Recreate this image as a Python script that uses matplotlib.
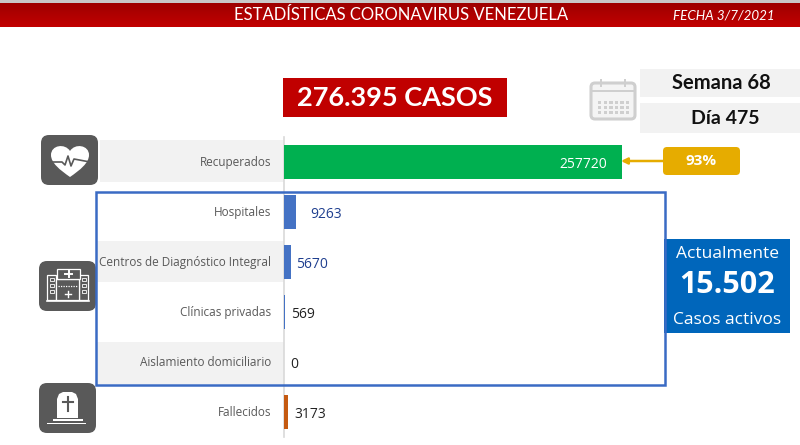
import numpy as np
import matplotlib
matplotlib.use("Agg")
import matplotlib.pyplot as plt
from matplotlib.patches import Rectangle, FancyBboxPatch, PathPatch, Polygon
from matplotlib.path import Path

categories = ["Recuperados", "Hospitales", "Centros de Diagnóstico Integral",
              "Clínicas privadas", "Aislamiento domiciliario", "Fallecidos"]
values = [257720, 9263, 5670, 569, 0, 3173]
bar_colors = ["#00b050", "#4472c4", "#4472c4", "#4472c4", "#4472c4", "#c55a11"]
label_colors = ["#ffffff", "#1f3f8f", "#1f3f8f", "#222222", "#222222", "#222222"]
label_offsets_px = [-15, 14, 5, 6, 6, 6]

title = "ESTADÍSTICAS CORONAVIRUS VENEZUELA"
date_text = "FECHA 3/7/2021"
total_text = "276.395 CASOS"
week_text = "Semana 68"
day_text = "Día 475"
pct_text = "93%"
active_lines = ["Actualmente", "15.502", "Casos activos"]

W, H = 800, 445
fig = plt.figure(figsize=(W / 100, H / 100), dpi=100, facecolor="white")

bg = fig.add_axes([0, 0, 1, 1], zorder=1)
bg.set_xlim(0, W)
bg.set_ylim(H, 0)
bg.axis("off")

def rect(x0, y0, x1, y1, color, z=1, **kw):
    bg.add_patch(Rectangle((x0, y0), x1 - x0, y1 - y0, facecolor=color, edgecolor="none", zorder=z, **kw))

def rrect(x0, y0, x1, y1, color, r=8, z=3):
    bg.add_patch(FancyBboxPatch((x0 + r, y0 + r), x1 - x0 - 2 * r, y1 - y0 - 2 * r,
                                boxstyle=f"round,pad={r},rounding_size={r}",
                                facecolor=color, edgecolor="none", zorder=z))

# header
rect(0, 0, W, 3, "#c9c9c9")
grad = np.linspace(0, 1, 24)[:, None, None] * np.array([[[0.76 - 0.62, 0, 0]]]) + np.array([[[0.62, 0, 0]]])
bg.imshow(grad, extent=(0, W, 27, 3), aspect="auto", zorder=2)
bg.set_xlim(0, W)
bg.set_ylim(H, 0)
bg.text(401, 15.5, title, color="white", fontsize=12, family="Lato", ha="center", va="center", zorder=3)
bg.text(723.5, 16, date_text, color="white", fontsize=9.6, family="Lato", style="italic", ha="center", va="center", zorder=3)

# total box
rect(283, 78, 507, 117, "#c00000")
bg.text(395, 98, total_text, color="white", fontsize=19.5, family="Lato", weight="bold", ha="center", va="center", zorder=3)

# week/day boxes
rect(640, 69, 800, 97, "#f2f2f2")
rect(640, 103, 800, 133, "#f2f2f2")
bg.text(721, 83, week_text, color="#111111", fontsize=14.5, family="Lato", weight="bold", ha="center", va="center", zorder=3)
bg.text(725, 119, day_text, color="#111111", fontsize=14, family="Lato", weight="bold", ha="center", va="center", zorder=3)

# calendar icon
cal = "#cfcfcf"
bg.add_patch(FancyBboxPatch((591, 83), 44, 36, boxstyle="round,pad=0,rounding_size=4",
                            facecolor="#f4f4f4", edgecolor=cal, linewidth=2.2, zorder=3))
rect(591, 90, 635, 92, cal, z=4)
for x in (601, 625):
    rect(x - 1, 79, x + 1, 87, cal, z=4)
for y in (101, 106, 111):
    for x in np.arange(598, 628, 5.6):
        rect(x, y, x + 3.4, y + 2.6, cal, z=4)

# bands
rect(100, 140, 284, 182, "#f2f2f2")
rect(97, 241, 284, 282, "#f2f2f2")
rect(97, 342, 284, 384, "#f2f2f2")

# row labels
ys = [162, 212, 262, 312, 362, 412]
for name, y in zip(categories, ys):
    bg.text(271, y + 0.5, name, color="#595959", fontsize=8.5, family="Open Sans", ha="right", va="center", zorder=3)

# icons
dark = "#595959"
rrect(41, 135, 98, 185, dark, r=8)
rrect(39, 261, 96, 311, dark, r=8)
rrect(39, 383, 96, 433, dark, r=8)

# heart
M, C, Z = Path.MOVETO, Path.CURVE4, Path.CLOSEPOLY
heart = Path([(70, 177), (60, 170), (51, 163), (51, 155),
              (51, 145), (65, 143), (70, 151),
              (75, 143), (89, 145), (89, 155),
              (89, 163), (80, 170), (70, 177), (70, 177)],
             [M, C, C, C, C, C, C, C, C, C, C, C, C, Z])
bg.add_patch(PathPatch(heart, facecolor="white", edgecolor="none", zorder=4))
bg.plot([50, 62, 65, 68, 71, 74, 90], [162, 162, 165, 156, 166, 159, 162], color=dark, lw=1.2, zorder=5)

# hospital
for x0, x1, y0, y1 in [(47, 56, 275, 300), (79, 88, 275, 300), (56, 79, 279, 300), (57, 80, 269, 279)]:
    bg.add_patch(Rectangle((x0, y0), x1 - x0, y1 - y0, facecolor=dark, edgecolor="white", lw=0.9, zorder=4))
for wx in (49.5, 81.5):
    for wy in (278, 284, 290):
        bg.add_patch(Rectangle((wx, wy), 4, 3.4, facecolor=dark, edgecolor="white", lw=0.6, zorder=5))
bg.plot([68.5, 68.5], [271, 277], color="white", lw=1.4, zorder=5)
bg.plot([65, 72], [274, 274], color="white", lw=1.4, zorder=5)
bg.plot([67.5, 67.5], [291, 297], color="white", lw=1, zorder=5)
bg.plot([64.5, 70.5], [294, 294], color="white", lw=1, zorder=5)
bg.plot([47, 89], [300.5, 300.5], color="white", lw=1.2, zorder=5)
bg.plot([58, 77], [286, 286], color="white", lw=0.9, ls=(0, (1, 1)), zorder=5)

# tombstone
bg.add_patch(Polygon([(57, 418), (57, 399), (59, 394), (63, 392), (72, 392), (76, 394), (78, 399), (78, 418)],
                     closed=True, facecolor="white", edgecolor="none", zorder=4))
bg.plot([67.5, 67.5], [397, 411], color=dark, lw=1.5, zorder=5)
bg.plot([62.5, 72.5], [402, 402], color=dark, lw=1.5, zorder=5)
rect(53, 419, 83, 421, "white", z=4)
rect(47, 422.5, 86, 423.5, "white", z=4)

# active box
rect(664, 239, 790, 333, "#0066bb", z=6)
bg.text(727, 253.5, active_lines[0], color="white", fontsize=12.5, family="Open Sans", ha="center", va="center", zorder=7)
bg.text(727, 285, active_lines[1], color="white", fontsize=22, family="Open Sans", weight="bold", ha="center", va="center", zorder=7)
bg.text(727, 319.5, active_lines[2], color="white", fontsize=12.5, family="Open Sans", ha="center", va="center", zorder=7)

# 93% box
rrect(663, 147, 740, 175, "#e6ac00", r=4, z=4)
bg.text(701, 161, pct_text, color="white", fontsize=11, family="Open Sans", weight="bold", ha="center", va="center", zorder=5)

# bar axes: zero at x=284, 257720 ends at x=622; rows 50 px tall from y=137
px_per_unit = (622 - 284) / values[0]
ax = fig.add_axes([284 / W, 1 - 437 / H, (W - 284) / W, 300 / H], zorder=2)
ax.patch.set_alpha(0)
ax.set_xlim(0, (W - 284) / px_per_unit)
ax.set_ylim(5.5, -0.5)
ax.barh(range(len(values)), values, height=0.69, color=bar_colors, zorder=3)
for s in ("top", "right", "bottom"):
    ax.spines[s].set_visible(False)
ax.spines["left"].set_color("#d9d9d9")
ax.spines["left"].set_linewidth(1.2)
ax.spines["left"].set_zorder(1)
ax.set_xticks([])
ax.set_yticks([])
for i, (v, c, off) in enumerate(zip(values, label_colors, label_offsets_px)):
    ax.annotate(str(v), (v, i), xytext=(off * 0.72, -1.6), textcoords="offset points",
                color=c, fontsize=10, family="Open Sans", va="center",
                ha="right" if off < 0 else "left", zorder=5)

# blue frame and arrow on top
ov = fig.add_axes([0, 0, 1, 1], zorder=3)
ov.set_xlim(0, W)
ov.set_ylim(H, 0)
ov.axis("off")
ov.add_patch(Rectangle((95.5, 192), 569.5, 193, facecolor="none", edgecolor="#3a6bc4", linewidth=1.8))
ov.annotate("", xy=(621, 161), xytext=(664, 161),
            arrowprops=dict(arrowstyle="-|>", color="#e6ac00", lw=1.8, mutation_scale=9, shrinkA=0, shrinkB=0))

fig.savefig("out.png", dpi=100, facecolor="white")
